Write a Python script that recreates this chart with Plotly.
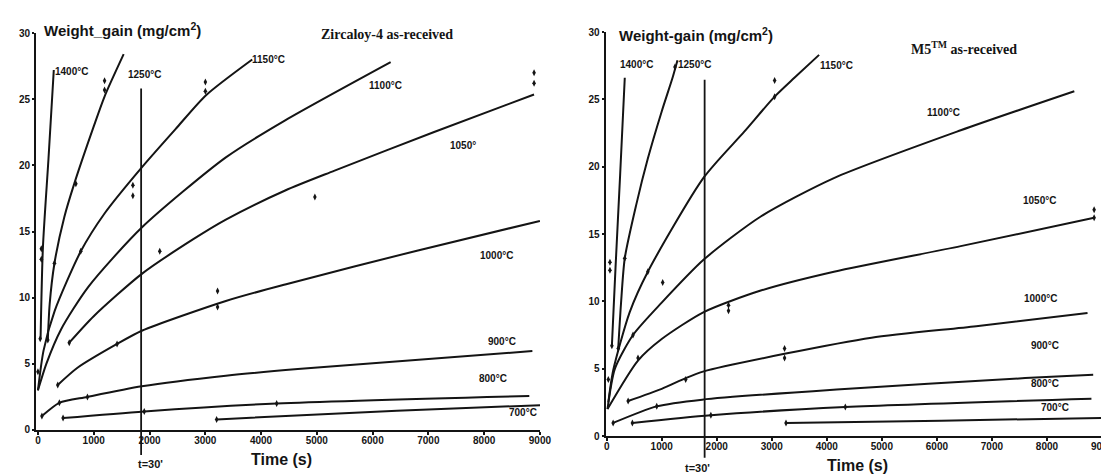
import plotly.graph_objects as go

# ---------------- Zircaloy-4 as-received (left panel) ----------------
# time (s) / weight gain (mg/cm2)
zr_1400_t = [47, 89, 189, 284]
zr_1400_w = [6.9, 13.8, 20.5, 27.2]
zr_1250_t = [177, 210, 296, 473, 650, 1005, 1194, 1537]
zr_1250_w = [6.8, 9.5, 12.6, 16.1, 18.6, 23.0, 25.2, 28.4]
zr_1150_t = [0, 100, 300, 768, 1200, 1862, 2500, 3014, 3842]
zr_1150_w = [3.0, 6.0, 9.0, 13.5, 16.4, 19.85, 22.9, 25.3, 28.0]
zr_1100_t = [0, 150, 414, 900, 1862, 3369, 4433, 6324]
zr_1100_w = [3.0, 5.0, 7.6, 10.8, 15.3, 20.6, 23.4, 27.8]
zr_1050_t = [561, 1000, 1862, 2778, 3369, 4433, 5319, 7092, 8895]
zr_1050_w = [6.6, 8.6, 11.8, 14.4, 15.9, 18.1, 19.6, 22.5, 25.35]
zr_1000_t = [355, 709, 1418, 1862, 3369, 4433, 6795, 9000]
zr_1000_w = [3.4, 4.7, 6.5, 7.5, 9.75, 11.0, 13.55, 15.8]
zr_900_t = [71, 384, 887, 1862, 3369, 4660, 8865]
zr_900_w = [1.05, 2.05, 2.5, 3.3, 4.1, 4.6, 5.96]
zr_800_t = [450, 1906, 4280, 8810]
zr_800_w = [0.9, 1.4, 2.0, 2.57]
zr_700_t = [3204, 6436, 9150]
zr_700_w = [0.8, 1.46, 1.9]
# measured points
zr_pts_t = [0, 40, 60, 60, 177, 296, 680, 1194, 1194, 768, 1702, 1702, 3002, 3002,
            561, 2184, 4965, 8895, 8895, 355, 1418, 3220, 3220, 71, 384, 887,
            450, 1906, 4280, 3204]
zr_pts_w = [4.4, 6.9, 12.9, 13.7, 6.8, 12.6, 18.6, 25.7, 26.4, 13.5, 17.7, 18.5, 25.6, 26.3,
            6.6, 13.5, 17.6, 26.2, 27.0, 3.4, 6.5, 9.3, 10.5, 1.05, 2.05, 2.5,
            0.9, 1.4, 2.0, 0.8]
zr_t30 = 1850
zr_t30_top = 25.8

# ---------------- M5 as-received (right panel) ----------------
m5_1400_t = [95, 161, 245, 329]
m5_1400_w = [6.7, 12.5, 19.4, 26.6]
m5_1250_t = [210, 260, 329, 539, 748, 1000, 1197, 1287]
m5_1250_w = [6.5, 9.8, 13.2, 17.2, 20.6, 24.1, 26.6, 27.9]
m5_1150_t = [30, 120, 419, 748, 1765, 2500, 3052, 3411, 3860]
m5_1150_w = [2.5, 4.9, 9.2, 12.2, 19.2, 22.6, 25.2, 26.6, 28.3]
m5_1100_t = [15, 150, 479, 1000, 1765, 2800, 4129, 6433, 8497]
m5_1100_w = [2.0, 5.0, 7.5, 9.9, 13.1, 16.3, 19.15, 22.7, 25.6]
m5_1050_t = [15, 569, 1000, 1765, 2800, 4129, 6433, 8857]
m5_1050_w = [2.0, 5.6, 7.2, 9.2, 10.8, 12.2, 14.1, 16.2]
m5_1000_t = [390, 1000, 1436, 1765, 3232, 4812, 6714, 8737]
m5_1000_w = [2.6, 3.5, 4.3, 4.8, 6.1, 7.3, 8.15, 9.13]
m5_900_t = [117, 910, 1734, 4178, 7603, 8840]
m5_900_w = [0.97, 2.2, 2.7, 3.45, 4.3, 4.55]
m5_800_t = [467, 1894, 4336, 8808]
m5_800_w = [0.97, 1.54, 2.15, 2.77]
m5_700_t = [3258, 6081, 9030]
m5_700_w = [0.97, 1.14, 1.34]
m5_pts_t = [30, 60, 60, 95, 210, 329, 1240, 748, 3052, 3052, 479, 1018, 569, 2214, 2214,
            8857, 8857, 390, 1436, 3232, 3232, 117, 910, 467, 1894, 4336, 3258]
m5_pts_w = [4.2, 12.3, 12.9, 6.7, 6.5, 13.2, 27.4, 12.2, 25.2, 26.4, 7.5, 11.4, 5.8, 9.3, 9.7,
            16.2, 16.8, 2.6, 4.2, 5.8, 6.5, 0.97, 2.2, 0.97, 1.54, 2.15, 0.97]
m5_t30 = 1780
m5_t30_top = 26.45

x_ticks = [0, 1000, 2000, 3000, 4000, 5000, 6000, 7000, 8000, 9000]
x_ticktext = ["0", "1000", "2000", "3000", "4000", "5000", "6000", "7000", "8000", "9000"]
y_ticks = [0, 5, 10, 15, 20, 25, 30]

# labels: (text, time, weight)
zr_labels = [("1400°C", 319, 27.06), ("1250°C", 1631, 26.9), ("1150°C", 3848, 27.97),
             ("1100°C", 5957, 26.0), ("1050°", 7411, 21.5), ("1000°C", 7943, 13.2),
             ("900°C", 8085, 6.7), ("800°C", 7926, 3.9), ("700°C", 8457, 1.3)]
m5_labels = [("1400°C", 269, 27.6), ("1250°C", 1311, 27.6), ("1150°C", 3896, 27.5),
             ("1100°C", 5835, 24.0), ("1050°C", 7576, 17.5), ("1000°C", 7594, 10.2),
             ("900°C", 7720, 6.7), ("800°C", 7720, 3.9), ("700°C", 7917, 2.1)]

INK = "#141414"
SANS = "Liberation Sans, Arial, sans-serif"
SERIF = "Liberation Serif, Times New Roman, serif"

fig = go.Figure()

zr_series = [(zr_1400_t, zr_1400_w), (zr_1250_t, zr_1250_w), (zr_1150_t, zr_1150_w),
             (zr_1100_t, zr_1100_w), (zr_1050_t, zr_1050_w), (zr_1000_t, zr_1000_w),
             (zr_900_t, zr_900_w), (zr_800_t, zr_800_w), (zr_700_t, zr_700_w)]
m5_series = [(m5_1400_t, m5_1400_w), (m5_1250_t, m5_1250_w), (m5_1150_t, m5_1150_w),
             (m5_1100_t, m5_1100_w), (m5_1050_t, m5_1050_w), (m5_1000_t, m5_1000_w),
             (m5_900_t, m5_900_w), (m5_800_t, m5_800_w), (m5_700_t, m5_700_w)]

for (t, w) in zr_series:
    fig.add_trace(go.Scatter(x=t, y=w, mode="lines", xaxis="x", yaxis="y",
                             line=dict(color=INK, width=2, shape="spline", smoothing=0.7),
                             showlegend=False, hoverinfo="skip"))
for (t, w) in m5_series:
    fig.add_trace(go.Scatter(x=t, y=w, mode="lines", xaxis="x2", yaxis="y2",
                             line=dict(color=INK, width=2, shape="spline", smoothing=0.7),
                             showlegend=False, hoverinfo="skip"))

fig.add_trace(go.Scatter(x=zr_pts_t, y=zr_pts_w, mode="markers", xaxis="x", yaxis="y",
                         marker=dict(symbol="diamond-tall", size=5, color=INK),
                         showlegend=False, hoverinfo="skip"))
fig.add_trace(go.Scatter(x=m5_pts_t, y=m5_pts_w, mode="markers", xaxis="x2", yaxis="y2",
                         marker=dict(symbol="diamond-tall", size=5, color=INK),
                         showlegend=False, hoverinfo="skip"))

# t = 30' vertical lines
fig.add_trace(go.Scatter(x=[zr_t30, zr_t30], y=[0, zr_t30_top], mode="lines", xaxis="x", yaxis="y",
                         line=dict(color=INK, width=1.8), showlegend=False, hoverinfo="skip"))
fig.add_trace(go.Scatter(x=[m5_t30, m5_t30], y=[0, m5_t30_top], mode="lines", xaxis="x2", yaxis="y2",
                         line=dict(color=INK, width=1.8), showlegend=False, hoverinfo="skip"))
fig.add_shape(type="line", xref="x", yref="y domain", x0=zr_t30, x1=zr_t30, y0=-0.063, y1=0,
              line=dict(color=INK, width=1.8))
fig.add_shape(type="line", xref="x2", yref="y2 domain", x0=m5_t30, x1=m5_t30, y0=-0.054, y1=0,
              line=dict(color=INK, width=1.8))

ann = []
for (txt, t, w) in zr_labels:
    ann.append(dict(text=txt, x=t, y=w, xref="x", yref="y", xanchor="left", yanchor="middle",
                    xshift=-3, showarrow=False,
                    font=dict(family=SANS, size=10, color=INK, weight="bold")))
for (txt, t, w) in m5_labels:
    ann.append(dict(text=txt, x=t, y=w, xref="x2", yref="y2", xanchor="left", yanchor="middle",
                    xshift=-3, showarrow=False,
                    font=dict(family=SANS, size=10, color=INK, weight="bold")))

ann += [
    dict(text="Weight_gain (mg/cm<sup>2</sup>)", x=142, y=1.005, xref="x", yref="paper",
         xanchor="left", yanchor="middle", xshift=-4, showarrow=False,
         font=dict(family=SANS, size=15, color=INK, weight="bold")),
    dict(text="Zircaloy-4 as-received", x=6259, y=29.9, xref="x", yref="y",
         xanchor="center", yanchor="middle", showarrow=False,
         font=dict(family=SERIF, size=14, color=INK, weight="bold")),
    dict(text="Time (s)", x=4362, y=-0.057, xref="x", yref="paper", xanchor="center", yanchor="middle",
         showarrow=False, font=dict(family=SANS, size=16, color=INK, weight="bold")),
    dict(text="t=30'", x=2021, y=-0.07, xref="x", yref="paper", xanchor="center", yanchor="middle",
         showarrow=False, font=dict(family=SANS, size=11, color=INK, weight="bold")),
    dict(text="Weight-gain (mg/cm<sup>2</sup>)", x=269, y=0.995, xref="x2", yref="paper",
         xanchor="left", yanchor="middle", xshift=-4, showarrow=False,
         font=dict(family=SANS, size=15, color=INK, weight="bold")),
    dict(text="M5<sup>TM</sup> as-received", x=6499, y=28.8, xref="x2", yref="y2",
         xanchor="center", yanchor="middle", showarrow=False,
         font=dict(family=SERIF, size=14, color=INK, weight="bold")),
    dict(text="Time (s)", x=4560, y=-0.072, xref="x2", yref="paper", xanchor="center", yanchor="middle",
         showarrow=False, font=dict(family=SANS, size=16, color=INK, weight="bold")),
    dict(text="t=30'", x=1652, y=-0.08, xref="x2", yref="paper", xanchor="center", yanchor="middle",
         showarrow=False, font=dict(family=SANS, size=11, color=INK, weight="bold")),
]

tickfont = dict(family=SANS, size=10, color=INK, weight="bold")
xcommon = dict(showgrid=False, zeroline=False, showline=True, linecolor=INK, linewidth=2,
               ticks="outside", ticklen=3, tickwidth=1.5, tickcolor=INK, tickfont=tickfont,
               tickvals=x_ticks, ticktext=x_ticktext, ticklabelstandoff=-3, fixedrange=True)
ycommon = dict(showgrid=False, zeroline=False, showline=True, linecolor=INK, linewidth=2,
               ticks="outside", ticklen=2, tickwidth=1.5, tickcolor=INK, tickfont=tickfont,
               tickvals=y_ticks, range=[0, 30], fixedrange=True)

fig.update_layout(
    width=1109, height=475,
    margin=dict(l=28, r=3, t=24, b=47),
    paper_bgcolor="white", plot_bgcolor="white",
    showlegend=False,
    xaxis=dict(domain=[0, 0.4727], range=[-35, 9000], anchor="y", **xcommon),
    yaxis=dict(domain=[0.0149, 0.9975], anchor="x", **ycommon),
    xaxis2=dict(domain=[0.5343, 1.0], range=[-20, 9000], anchor="y2", **xcommon),
    yaxis2=dict(domain=[0.0, 1.0], anchor="x2", **ycommon),
    annotations=ann,
)

fig.write_html("out.html")
